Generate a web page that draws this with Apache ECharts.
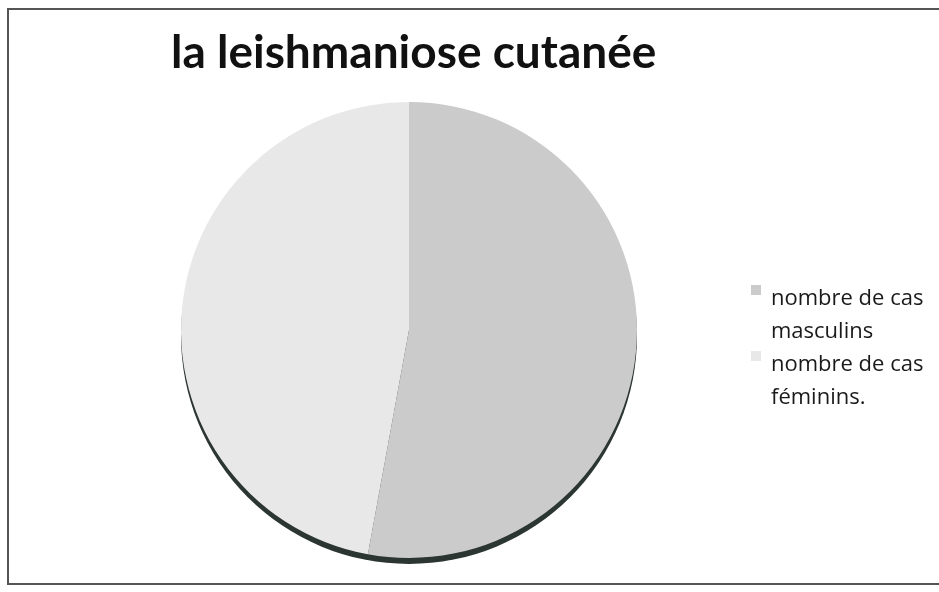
<!DOCTYPE html>
<html><head><meta charset="utf-8">
<script src="https://cdn.jsdelivr.net/npm/echarts@6/dist/echarts.min.js"></script>
<style>html,body{margin:0;padding:0;background:#fff}#c{width:939px;height:592px}</style>
</head><body><div id="c"></div>
<script>
const titleText = "la leishmaniose cutanée";
const categories = ["nombre de cas\nmasculins", "nombre de cas\nféminins."];
const values = [55, 49];
const colors = ["#cbcbcb", "#e8e8e8"];

const chart = echarts.init(document.getElementById('c'), null, {renderer: 'canvas'});
chart.setOption({
  backgroundColor: '#ffffff',
  animation: false,
  title: {
    text: titleText, left: 166, top: 25,
    textStyle: {fontFamily: 'Lato', fontWeight: 'bold', fontSize: 46, color: '#111'}
  },
  legend: {
    orient: 'vertical', left: 746, top: 277, itemWidth: 10, itemHeight: 60, itemGap: 0,
    icon: 'path://M0,0h10v10h-10z M0,60h0.01v0.01z',
    data: categories,
    textStyle: {fontFamily: 'Open Sans', fontSize: 22, color: '#1a1a1a', lineHeight: 33, padding: [0,0,0,5]}
  },
  graphic: [{
    type: 'rect', shape: {x: 8, y: 9, width: 940, height: 575},
    style: {fill: 'none', stroke: '#555', lineWidth: 2}, z: -1
  }],
  series: [{
    type: 'pie', silent: true, radius: 228, center: [409, 336],
    data: [{value: values[0] + values[1], name: 'shadow'}],
    label: {show: false}, labelLine: {show: false},
    itemStyle: {color: '#2b3531'}, z: 1, legendHoverLink: false
  }, {
    type: 'pie', radius: 228, center: [409, 330], startAngle: 90, clockwise: true,
    data: categories.map((c, i) => ({name: c, value: values[i], itemStyle: {color: colors[i]}})),
    label: {show: false}, labelLine: {show: false},
    itemStyle: {borderWidth: 0}, z: 2
  }]
});
</script></body></html>
